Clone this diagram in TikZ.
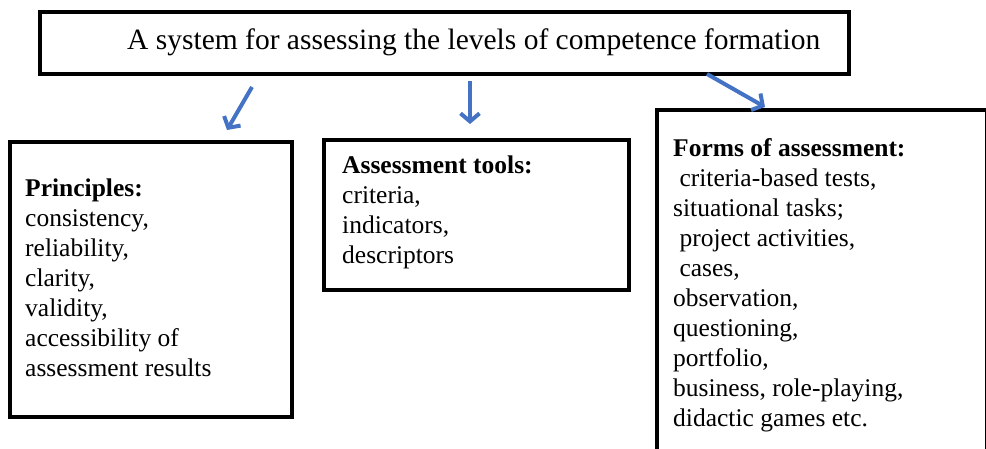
\documentclass[tikz,border=0pt]{standalone}
\usepackage{fontspec}
\setmainfont{Liberation Serif}
\usepackage{xcolor}
\usetikzlibrary{arrows.meta}
\definecolor{arrowblue}{RGB}{68,114,196}

\begin{document}
\begin{tikzpicture}[x=1pt,y=-1pt,
  frame/.style={draw=black,line width=3.5pt,inner sep=0pt,anchor=north west},
  items/.style={inner sep=0pt,anchor=north west,align=left,font=\fontsize{25.5}{30}\selectfont},
  links/.style={draw=arrowblue,line width=4pt,-{Straight Barb[length=8pt,width=19pt]}}]

\useasboundingbox (0,0) rectangle (986,448);

\node[frame,minimum width=809pt,minimum height=62pt](sys)at(38,10){};
\node[frame,minimum width=282pt,minimum height=275pt](prin)at(8,140){};
\node[frame,minimum width=305pt,minimum height=150pt](tools)at(322,138){};
\node[frame,minimum width=330pt,minimum height=400pt](forms)at(655,108){};

\node[inner sep=0pt,anchor=base west,font=\fontsize{29.5}{34}\selectfont](systext)at(127,49)
  {A system for assessing the levels of competence formation};

\node[items](printext)at(25,179){\textbf{Principles:}\\consistency,\\reliability,\\clarity,\\validity,\\accessibility of\\assessment results};
\node[items](toolstext)at(342,156){\textbf{Assessment tools:}\\criteria,\\indicators,\\descriptors};
\node[items](formstext)at(673,138){\textbf{Forms of assessment:}\\\ criteria-based tests,\\situational tasks;\\\ project activities,\\\ cases,\\observation,\\questioning,\\portfolio,\\business, role-playing,\\didactic games etc.};

\coordinate(A1)at(252,87);
\coordinate(B1)at(227,130);
\coordinate(A2)at(470,81);
\coordinate(B2)at(470,124);
\coordinate(A3)at(707,74);%% ends on the top of the third box
\coordinate(B3)at(765,107);

\draw[links](A1)--(B1);
\draw[links](A2)--(B2);
\draw[links](A3)--(B3);
\end{tikzpicture}
\end{document}
